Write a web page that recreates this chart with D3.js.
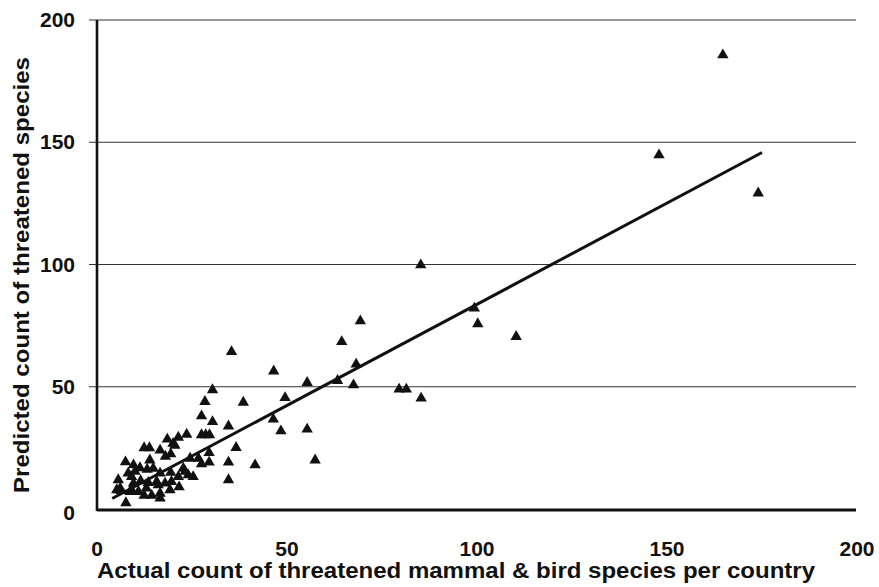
<!DOCTYPE html>
<html><head><meta charset="utf-8">
<script src="https://cdn.jsdelivr.net/npm/d3@7"></script>
<style>
html,body{margin:0;padding:0;background:#fff;}
svg{display:block;}
text{font-family:"Liberation Sans",Arial,sans-serif;font-weight:bold;fill:#111;}
</style></head>
<body>
<script>
// ---- data ----
const xTicks = [0, 50, 100, 150, 200];
const yTicks = [0, 50, 100, 150, 200];
const xTitle = "Actual count of threatened mammal & bird species per country";
const yTitle = "Predicted count of threatened species";
const actual = [
 164.7,147.9,174,85.2,99.3,100.2,110.3,79.5,81.4,85.3,
 69.3,64.4,35.4,68.2,46.5,55.3,63.3,67.5,30.4,49.5,
 28.4,38.5,27.5,46.4,30.4,34.6,48.4,55.3,27.5,28.6,
 29.6,36.6,29.5,34.6,41.6,57.4,29.5,27.5,34.6,
 23.6,21.4,18.5,12.4,13.8,20.5,16.6,19.4,18,13.9,
 7.5,24.5,26.7,24,25.3,21.4,19.4,22.7,9.6,11.3,
 8.2,10,9.1,5.6,5.2,6.3,7.6,9.1,8.7,10.9,
 12.4,14.4,16.6,16.6,11.5,13.5,15.7,17.9,19.6,16.6,
 14.8,13.2,21.6,19.2,16.1,13,9.6,6.1,23.2,20
];
const predicted = [
 185.7,144.8,129.2,99.8,82.1,75.7,70.5,49,49,45.3,
 76.9,68.4,64.3,59.2,56.4,51.7,52.5,50.7,48.7,45.5,
 43.9,43.6,38,36.7,35.7,33.9,31.9,32.6,30.3,30.3,
 30.3,25.1,23,19.1,18,20,19.1,18.4,11.9,
 30.5,29.3,28.5,25,25,26,24,22.5,21.5,20,
 19.2,20.7,20.7,13.9,13.2,13.2,14.9,16.6,18,16.8,
 14.6,15.3,13.2,11.9,7.8,7.5,2.5,7.8,7.1,7.1,
 5.5,5.5,6.4,4.4,11.5,10.8,11.2,10.5,11.2,14.6,
 16.6,16.2,9,7.8,9.8,8.5,10.5,8.5,15.3,26.8
];
const trendX = [4, 175];
const trendY = [4.3, 145.8];

// ---- chart ----
const W = 879, H = 587;
const svg = d3.select("body").append("svg").attr("width", W).attr("height", H);
const x = d3.scaleLinear().domain([0, 200]).range([97, 857]);
const y = d3.scaleLinear().domain([0, 200]).range([509, 20]);

// gridlines
svg.append("g").selectAll("line").data(yTicks.filter(d => d > 0)).join("line")
  .attr("x1", x(0) - 8).attr("x2", x(200) - 1)
  .attr("y1", d => y(d)).attr("y2", d => y(d))
  .attr("stroke", "#333").attr("stroke-width", 1.2);

// axes lines
svg.append("line").attr("x1", x(0)).attr("x2", x(0)).attr("y1", y(200)).attr("y2", y(0) + 2)
  .attr("stroke", "#111").attr("stroke-width", 2.6);
svg.append("line").attr("x1", x(0)).attr("x2", x(200) - 1).attr("y1", y(0) + 1).attr("y2", y(0) + 1)
  .attr("stroke", "#111").attr("stroke-width", 3);

// tick labels
svg.append("g").selectAll("text").data(yTicks).join("text")
  .attr("x", 75).attr("y", d => y(d) + (d === 0 ? 11 : 7))
  .attr("text-anchor", "end").attr("font-size", 21).text(d => d);
svg.append("g").selectAll("text").data(xTicks).join("text")
  .attr("x", d => x(d)).attr("y", 556)
  .attr("text-anchor", "middle").attr("font-size", 21).text(d => d);

// titles
svg.append("text").attr("x", 97).attr("y", 578).attr("font-size", 22)
  .attr("textLength", 718).attr("lengthAdjust", "spacingAndGlyphs").text(xTitle);
svg.append("text").attr("transform", "translate(29,493) rotate(-90)").attr("font-size", 22)
  .attr("textLength", 436).attr("lengthAdjust", "spacingAndGlyphs").text(yTitle);

// trend line
svg.append("path")
  .attr("d", d3.line().x(d => x(d[0])).y(d => y(d[1]))(d3.zip(trendX, trendY)))
  .attr("stroke", "#111").attr("stroke-width", 3).attr("fill", "none");

// points
const tri = d3.symbol().type(d3.symbolTriangle).size(56);
svg.append("g").selectAll("path").data(d3.zip(actual, predicted)).join("path")
  .attr("transform", d => `translate(${x(d[0])},${y(d[1])})`)
  .attr("d", tri).attr("fill", "#111");
</script>
</body></html>
